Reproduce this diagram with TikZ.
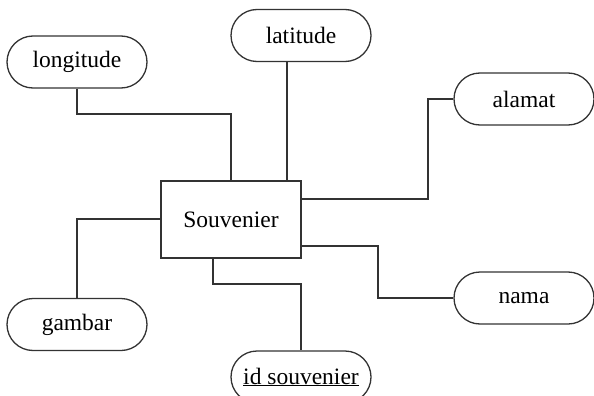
\documentclass[tikz,border=0pt]{standalone}
\usepackage{fontspec}
\setmainfont{LiberationSerif}[Extension=.ttf, UprightFont=*-Regular]
\begin{document}
\begin{tikzpicture}[x=1pt,y=-1pt,
  line width=1.3pt, draw=black!80,
  attr/.style={draw=black!80, rounded corners=26pt, minimum width=140pt,
    minimum height=52pt, inner sep=0pt, font=\rmfamily\fontsize{23.5}{24}\selectfont},
  entity/.style={draw=black!80, minimum width=140pt, minimum height=77pt,
    inner sep=0pt, font=\rmfamily\fontsize{23.5}{24}\selectfont},
  link/.style={draw=black!80, line width=1.3pt}]
\useasboundingbox (0,0) rectangle (594,396);
\clip (0,0) rectangle (594,396);

% entity
\node[entity] (ent) at (231,219.5) {Souvenier};

% attributes
\node[attr] (lon) at (77,62) {longitude};
\node[attr] (lat) at (301,35.5) {latitude};
\node[attr] (alm) at (524,99) {alamat};
\node[attr] (nam) at (524,298) {nama};
\node[attr] (gam) at (77,324.5) {gambar};
\node[attr] (ids) at (301,377) {\underline{id souvenier}};

% connectors
\draw[link] (lon.south) |- (231,114) -- (231,0 |- ent.north);
\draw[link] (287,0 |- lat.south) -- (287,0 |- ent.north);
\draw[link] (alm.west) -| (428,199) -- (ent.east |- 0,199);
\draw[link] (ent.east |- 0,246) -| (378,298) -- (nam.west);
\draw[link] (gam.north) |- (ent.west |- 0,219);
\draw[link] (213,0 |- ent.south) |- (301,284) -- (ids.north);
\end{tikzpicture}
\end{document}
